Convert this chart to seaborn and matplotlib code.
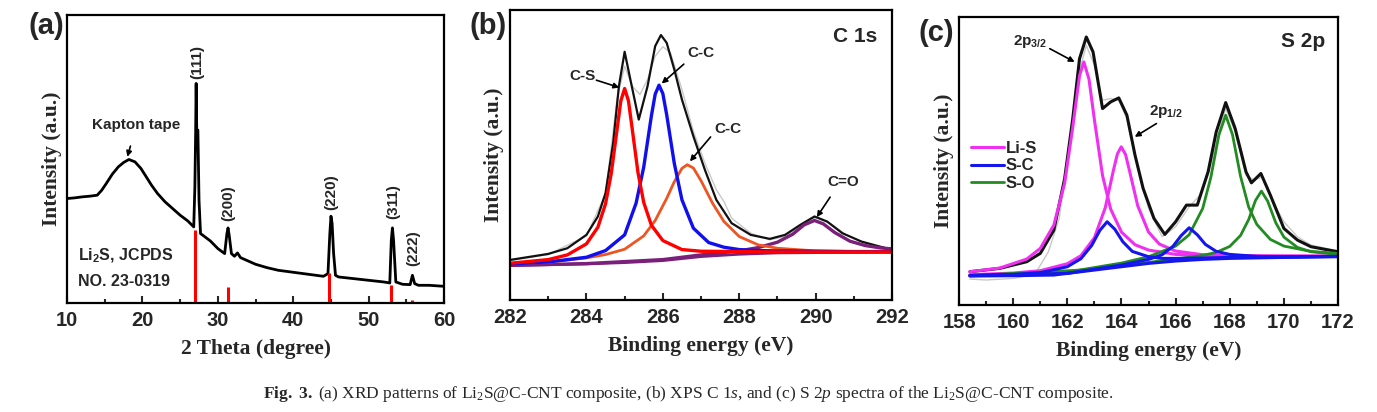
import numpy as np
import pandas as pd
import seaborn as sns
import matplotlib.pyplot as plt
from matplotlib.ticker import MultipleLocator

# ---------------- (a) XRD ----------------
xrd_x = [10, 11, 12, 13, 14, 14.6, 15.2, 16, 16.8, 17.5, 18.2, 19, 19.8, 20.5, 21.2, 22, 23, 24, 25, 26,
         26.8, 26.95, 27.05, 27.12, 27.2, 27.35, 27.5, 27.7, 28, 29, 30, 30.9, 31.2, 31.35, 31.5, 31.8,
         32.2, 32.6, 33, 34, 35, 36.5, 38, 40, 42, 44, 44.6, 44.85, 45.0, 45.15, 45.35, 45.6, 46, 48,
         50, 52, 52.8, 53.0, 53.15, 53.3, 53.6, 54.5, 55.5, 55.8, 56.1, 56.6, 58, 60]
xrd_y = [313, 315, 318, 320, 323, 338, 358, 386, 408, 421, 430, 423, 403, 378, 353, 328, 303, 283, 263, 246,
         228, 348, 508, 658, 513, 518, 308, 208, 203, 186, 163, 148, 208, 225, 203, 148,
         140, 150, 136, 126, 116, 106, 98, 92, 86, 80, 88, 208, 260, 238, 148, 83, 78, 73,
         68, 63, 60, 188, 225, 188, 63, 56, 55, 83, 58, 53, 53, 50]
ref_pos = [27.0, 31.3, 44.8, 53.0, 55.8]
ref_height = [220, 48, 90, 53, 8]
hkl_labels = ["(111)", "(200)", "(220)", "(311)", "(222)"]
hkl_x = [27.2, 31.4, 45.1, 53.2, 55.9]
hkl_y = [723, 298, 333, 303, 163]

# ---------------- (b) XPS C 1s ----------------
c1s_env_x = [282, 283, 283.5, 284, 284.3, 284.5, 284.7, 284.85, 285.0, 285.15, 285.37, 285.6, 285.8, 285.95,
             286.1, 286.3, 286.5, 286.8, 287.1, 287.4, 287.8, 288.3, 288.8, 289.2, 289.6, 289.97, 290.3,
             290.7, 291.2, 292]
c1s_env_y = [120, 138, 155, 195, 250, 320, 470, 640, 743, 660, 540, 640, 760, 793,
             770, 690, 600, 490, 390, 300, 230, 195, 183, 195, 225, 250, 235,
             200, 175, 150]
c1s_raw_x = [282, 283, 284, 284.5, 284.8, 285.0, 285.2, 285.4, 285.6, 285.8, 286.0, 286.2, 286.5, 286.8,
             287.1, 287.4, 287.6, 287.8, 288.3, 288.8, 289.2, 289.6, 290.0, 290.4, 290.8, 291.3, 292]
c1s_raw_y = [118, 136, 192, 318, 600, 700, 640, 615, 660, 730, 758, 740, 630, 505,
             410, 330, 295, 245, 200, 180, 190, 222, 247, 228, 195, 170, 152]
cs_x = [282, 283, 283.5, 284, 284.3, 284.5, 284.65, 284.8, 284.9, 285, 285.1, 285.2, 285.35, 285.5,
        285.7, 286, 286.5, 287, 288, 289, 290, 292]
cs_y = [110, 121, 135, 168, 218, 288, 379, 509, 596, 633, 596, 511, 381, 292,
        224, 178, 151, 146, 145, 144, 144, 144]
cc1_x = [282, 283, 284, 284.5, 285, 285.3, 285.5, 285.7, 285.8, 285.9, 286.0, 286.1, 286.3, 286.5,
         286.8, 287.2, 287.6, 288, 288.5, 289, 290, 291, 292]
cc1_y = [108, 114, 128, 148, 195, 290, 398, 551, 616, 643, 618, 555, 409, 300,
         215, 172, 158, 151, 148, 147, 146, 145, 145]
cc2_x = [282, 283, 284, 284.5, 285, 285.5, 285.8, 286.1, 286.3, 286.5, 286.64, 286.8, 287.0, 287.3,
         287.6, 288, 288.5, 289, 290, 291, 292]
cc2_y = [108, 113, 126, 136, 152, 192, 238, 304, 354, 394, 405, 395, 357, 290,
         235, 190, 165, 155, 147, 145, 144]
co_x = [282, 284, 286, 287, 288, 288.5, 289, 289.4, 289.7, 289.97, 290.2, 290.5, 290.9, 291.3, 291.7, 292]
co_y = [104, 109, 121, 135, 147, 157, 173, 197, 225, 238, 228, 202, 176, 163, 156, 153]
c1s_bg_x = [282, 284, 285, 286, 287, 288, 289, 290, 292]
c1s_bg_y = [103, 108, 112, 118, 130, 137, 141, 142, 143]

# ---------------- (c) XPS S 2p ----------------
s2p_env_x = [158.4, 159.5, 160.5, 161, 161.5, 161.9, 162.2, 162.45, 162.7, 162.95, 163.3, 163.6, 163.9,
             164.2, 164.5, 164.8, 165.2, 165.6, 166.0, 166.4, 166.8, 167.2, 167.5, 167.85, 168.2, 168.6,
             168.8, 169.15, 169.5, 170, 170.5, 171, 172]
s2p_env_y = [100, 110, 130, 155, 225, 380, 560, 740, 805, 760, 590, 610, 622,
             570, 450, 350, 260, 212, 250, 300, 300, 400, 520, 608, 530, 400,
             367, 395, 330, 230, 195, 175, 160]
s2p_raw_x = [158.4, 159, 160, 160.8, 161.3, 161.7, 162.1, 162.4, 162.7, 163.0, 163.3, 163.6, 163.9, 164.2,
             164.6, 165, 165.5, 166, 166.5, 166.9, 167.3, 167.6, 167.85, 168.2, 168.6, 168.9, 169.2, 169.6,
             170, 170.5, 171, 172]
s2p_raw_y = [78, 75, 80, 92, 160, 260, 480, 690, 780, 720, 615, 620, 615, 560,
             410, 290, 205, 235, 295, 330, 420, 520, 590, 520, 390, 375, 385, 310,
             250, 205, 180, 162]
lis1_x = [158.4, 159.5, 160.5, 161, 161.5, 161.9, 162.2, 162.45, 162.61, 162.8, 163.0, 163.3, 163.6, 164,
          164.5, 165, 166, 167, 168, 170, 172]
lis1_y = [100, 111, 138, 170, 240, 366, 534, 689, 730, 678, 556, 389, 288, 219,
          181, 165, 152, 149, 148, 147, 147]
lis2_x = [158.4, 160, 161, 162, 162.5, 163, 163.4, 163.7, 163.85, 163.99, 164.15, 164.3, 164.6, 165,
          165.4, 166, 167, 168, 170, 172]
lis2_y = [91, 96, 103, 124, 148, 202, 292, 404, 454, 475, 452, 402, 298, 219,
          183, 162, 151, 148, 147, 147]
sc1_x = [158.4, 160, 161, 162, 162.5, 162.9, 163.2, 163.47, 163.75, 164.05, 164.4, 165, 165.5, 166,
         167, 168, 170, 172]
sc1_y = [89, 92, 97, 115, 139, 179, 224, 250, 228, 190, 161, 145, 140, 140,
         141, 143, 144, 146]
sc2_x = [158.4, 162, 164, 165, 165.5, 165.9, 166.2, 166.5, 166.8, 167.1, 167.5, 168, 169, 170, 172]
sc2_y = [88, 95, 120, 137, 151, 176, 208, 232, 211, 182, 161, 152, 146, 145, 146]
so1_x = [158.4, 162, 164, 165, 166, 166.5, 167, 167.3, 167.6, 167.85, 168.1, 168.4, 168.7, 169,
         169.5, 170, 171, 172]
so1_y = [89, 99, 126, 145, 177, 211, 290, 383, 511, 570, 512, 386, 294, 242,
         197, 177, 161, 155]
so2_x = [158.4, 163, 165, 166, 167, 167.5, 168, 168.4, 168.7, 168.95, 169.17, 169.4, 169.7, 170,
         170.5, 171, 172]
so2_y = [88, 107, 128, 138, 149, 158, 176, 209, 257, 314, 342, 312, 247, 204,
         173, 160, 152]
s2p_bg_x = [158.4, 160, 161.5, 162, 163, 164, 165, 166, 167, 168, 170, 172]
s2p_bg_y = [87, 88, 90, 95, 105, 115, 125, 132, 137, 140, 143, 145]

sns.set_style("ticks")
plt.rcParams['font.family'] = ['Liberation Sans', 'DejaVu Sans']
plt.rcParams['font.weight'] = 'bold'
plt.rcParams['mathtext.fontset'] = 'custom'
plt.rcParams['mathtext.rm'] = 'Liberation Serif:normal'
plt.rcParams['mathtext.it'] = 'Liberation Serif:italic:normal'
plt.rcParams['mathtext.bf'] = 'Liberation Serif:bold'
plt.rcParams['mathtext.sf'] = 'Liberation Sans:bold'

fig = plt.figure(figsize=(13.77, 4.12), dpi=100)
ax_a = fig.add_axes([0.0487, 0.2646, 0.2738, 0.699])
ax_b = fig.add_axes([0.3704, 0.2718, 0.2774, 0.7039])
ax_c = fig.add_axes([0.6965, 0.2597, 0.2752, 0.699])

serif_lab = dict(fontfamily='Liberation Serif', fontweight='bold', fontsize=15.5)


def line(ax, x, y, color, lw):
    sns.lineplot(x=x, y=y, ax=ax, color=color, linewidth=lw, estimator=None, sort=False)
    return ax.lines[-1]


def style(ax, xlim, ylim, major, minor, xlabel):
    ax.set_xlim(*xlim)
    ax.set_ylim(*ylim)
    ax.set_yticks([])
    ax.xaxis.set_major_locator(MultipleLocator(major))
    ax.xaxis.set_minor_locator(MultipleLocator(minor))
    ax.tick_params(axis='x', which='major', direction='in', length=5, width=1.5,
                   labelsize=14.5, pad=6, top=False)
    ax.tick_params(axis='x', which='minor', direction='in', length=3, width=1.5, top=False)
    for s in ax.spines.values():
        s.set_linewidth(1.6)
        s.set_color('black')
    ax.set_xlabel(xlabel, labelpad=6, **serif_lab)
    ax.set_ylabel('Intensity (a.u.)', labelpad=4, **serif_lab)


# (a)
line(ax_a, xrd_x, xrd_y, 'black', 2.0)
ax_a.vlines(ref_pos, 0, ref_height, color='#ff0000', linewidth=2.2)
for lab, hx, hy in zip(hkl_labels, hkl_x, hkl_y):
    ax_a.text(hx, hy, lab, rotation=90, ha='center', va='center', fontsize=11, fontweight='bold')
ax_a.annotate('Kapton tape', xy=(18.0, 438), xytext=(19.2, 533), ha='center', va='center', fontsize=11,
              arrowprops=dict(arrowstyle='-|>', color='black', lw=1.2, mutation_scale=8, shrinkA=8, shrinkB=0))
ax_a.text(11.4, 143, r'Li$_\mathsf{2}$S, JCPDS', ha='left', va='center', fontsize=11.5)
ax_a.text(11.4, 63, 'NO. 23-0319', ha='left', va='center', fontsize=11.5)
style(ax_a, (10, 60), (0, 863), 10, 5, '2 Theta (degree)')

# (b)
line(ax_b, c1s_raw_x, c1s_raw_y, '#c8c8c8', 1.0)
line(ax_b, c1s_env_x, c1s_env_y, '#111111', 1.6)
line(ax_b, c1s_bg_x, c1s_bg_y, '#7a1f7a', 2.0)
line(ax_b, co_x, co_y, '#7a1f7a', 2.4)
line(ax_b, cc2_x, cc2_y, '#ee5522', 2.0)
line(ax_b, cc1_x, cc1_y, '#1010ee', 2.4)
line(ax_b, cs_x, cs_y, '#ff0000', 2.4)
arrow_kw = dict(arrowstyle='-|>', color='black', lw=1.2, mutation_scale=8, shrinkA=0, shrinkB=0)
ax_b.text(291.04, 788, 'C 1s', ha='center', va='center', fontsize=15)
ax_b.text(283.89, 670, 'C-S', ha='center', va='center', fontsize=11)
ax_b.annotate('', xy=(284.86, 636), xytext=(284.26, 658), arrowprops=arrow_kw)
ax_b.text(286.99, 738, 'C-C', ha='center', va='center', fontsize=11)
ax_b.annotate('', xy=(285.97, 648), xytext=(286.55, 706), arrowprops=arrow_kw)
ax_b.text(287.71, 513, 'C-C', ha='center', va='center', fontsize=11)
ax_b.annotate('', xy=(286.71, 415), xytext=(287.25, 488), arrowprops=arrow_kw)
ax_b.text(290.73, 353, 'C=O', ha='center', va='center', fontsize=11)
ax_b.annotate('', xy=(290.03, 248), xytext=(290.38, 308), arrowprops=arrow_kw)
style(ax_b, (282, 292), (0, 868), 2, 1, 'Binding energy (eV)')

# (c)
line(ax_c, s2p_raw_x, s2p_raw_y, '#c8c8c8', 1.0)
line(ax_c, s2p_env_x, s2p_env_y, '#111111', 2.2)
h_lis = line(ax_c, lis1_x, lis1_y, '#f030f0', 2.2)
line(ax_c, lis2_x, lis2_y, '#f030f0', 2.2)
line(ax_c, so1_x, so1_y, '#228b22', 2.0)
h_so = line(ax_c, so2_x, so2_y, '#228b22', 2.0)
h_sc = line(ax_c, sc1_x, sc1_y, '#1515ee', 2.2)
line(ax_c, sc2_x, sc2_y, '#1515ee', 2.2)
line(ax_c, s2p_bg_x, s2p_bg_y, '#1515ee', 2.2)
ax_c.text(170.71, 790, 'S 2p', ha='center', va='center', fontsize=15)
ax_c.text(160.61, 790, r'2p$_\mathsf{3/2}$', ha='center', va='center', fontsize=11)
ax_c.annotate('', xy=(162.27, 730), xytext=(161.35, 770), arrowprops=arrow_kw)
ax_c.text(165.65, 580, r'2p$_\mathsf{1/2}$', ha='center', va='center', fontsize=11)
ax_c.annotate('', xy=(164.49, 505), xytext=(165.29, 545), arrowprops=arrow_kw)
ax_c.legend([h_lis, h_sc, h_so], ['Li-S', 'S-C', 'S-O'], loc='upper left',
            bbox_to_anchor=(0.0, 0.61), frameon=False, fontsize=12, handlelength=2.0,
            handletextpad=0.1, labelspacing=0.15, borderaxespad=0.3)
style(ax_c, (158, 172), (0, 865), 2, 1, 'Binding energy (eV)')

# panel letters
for lab, px, py in [('(a)', 28, 12), ('(b)', 470, 12), ('(c)', 918, 19)]:
    fig.text(px / 1377, 1 - py / 412, lab, ha='left', va='top', fontsize=21, fontweight='bold')

fig.text(0.5, 1 - 394 / 412,
         r'$\mathbf{Fig.}$ $\mathbf{3.}$ (a) XRD patterns of Li$_2$S@C-CNT composite, (b) XPS C 1$\mathit{s}$, '
         r'and (c) S 2$\mathit{p}$ spectra of the Li$_2$S@C-CNT composite.',
         ha='center', va='center', fontsize=12.5, fontfamily='Liberation Serif', fontweight='normal')

fig.savefig('out.png', dpi=100)
